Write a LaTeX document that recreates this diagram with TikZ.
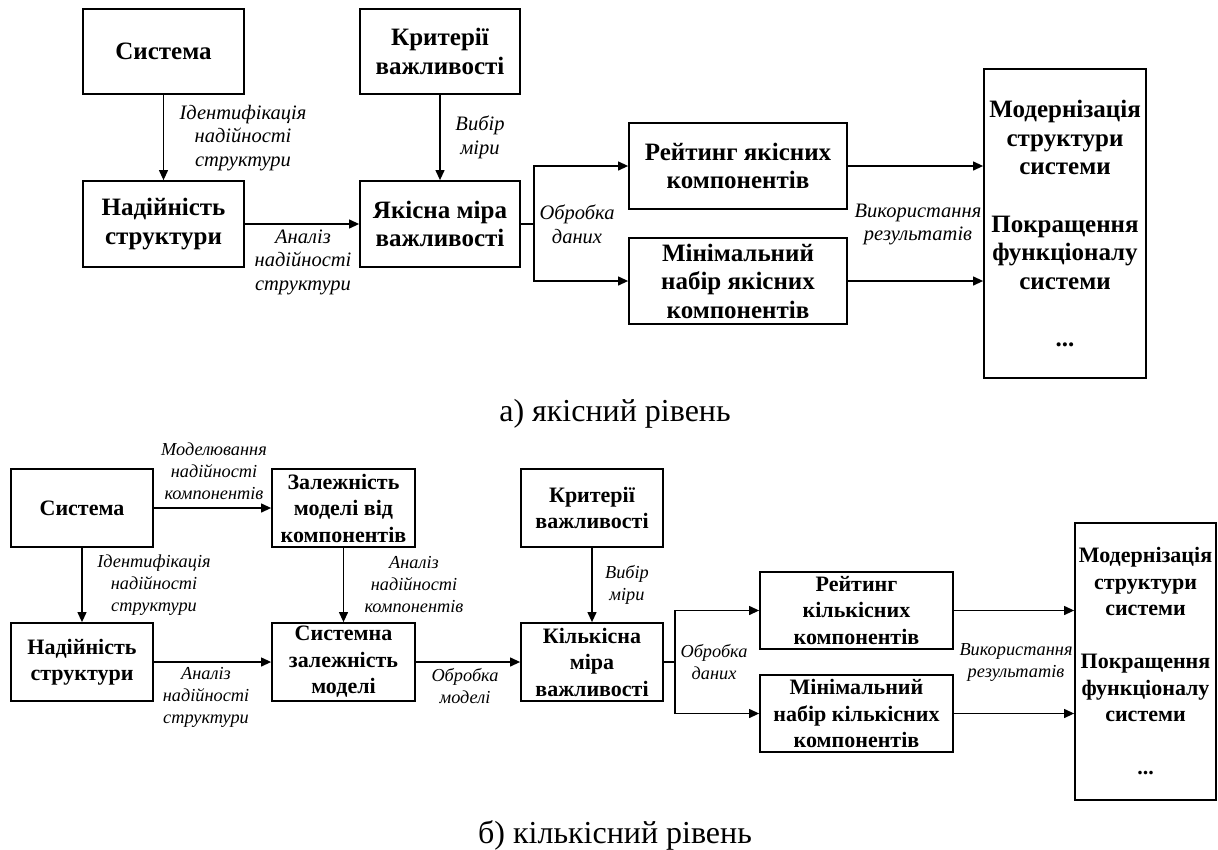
\documentclass[tikz,border=0pt]{standalone}
\usepackage{fontspec}
\setmainfont{Liberation Serif}
\usetikzlibrary{arrows.meta}
\begin{document}
\begin{tikzpicture}[x=1pt,y=-1pt,
  boxA/.style={draw, line width=1.8pt, inner sep=0pt, align=center, font=\bfseries\fontsize{25}{28.5}\selectfont},
  boxB/.style={draw, line width=1.8pt, inner sep=0pt, align=center, font=\bfseries\fontsize{22}{26.5}\selectfont},
  lblA/.style={inner sep=0pt, align=center, font=\itshape\fontsize{20.5}{23.5}\selectfont},
  lblB/.style={inner sep=0pt, align=center, font=\itshape\fontsize{18.3}{22}\selectfont},
  arr/.style={line width=1.2pt, -{Triangle[length=10pt,width=9pt]}},
  ln/.style={line width=1.2pt},
  capt/.style={inner sep=0pt, anchor=base, font=\fontsize{32}{36}\selectfont}]
\useasboundingbox (0,0) rectangle (1218,849);

% ---------- a) ----------
\node[boxA, minimum width=161pt, minimum height=85pt] (sysA) at (163.5,51.5) {Система};
\node[boxA, minimum width=160pt, minimum height=85pt] (kritA) at (440,51.5) {Критерії\\важливості};
\node[boxA, minimum width=161pt, minimum height=86pt] (nadA) at (163.5,224) {Надійність\\структури};
\node[boxA, minimum width=160pt, minimum height=86pt] (yakA) at (440,224) {Якісна міра\\важливості};
\node[boxA, minimum width=218pt, minimum height=86pt] (reitA) at (738,166) {Рейтинг якісних\\компонентів};
\node[boxA, minimum width=218pt, minimum height=86pt] (minA) at (738,281) {Мінімальний\\набір якісних\\компонентів};
\node[boxA, minimum width=162pt, minimum height=309pt] (modA) at (1065,223.5) {Модернізація\\структури\\системи\\[29pt]Покращення\\функціоналу\\системи\\[29pt]...};

\draw[arr] (sysA) -- (nadA);
\draw[arr] (kritA) -- (yakA);
\draw[arr] (nadA) -- (yakA);
\coordinate (brA) at (534,224);
\draw[ln] (yakA.east) -- (brA);
\draw[arr] (brA) |- (reitA.west);
\draw[arr] (brA) |- (minA.west);
\draw[arr] (reitA.east) -- (reitA.east -| modA.west);
\draw[arr] (minA.east) -- (minA.east -| modA.west);

\node[lblA] (l1A) at (243,138) {Ідентифікація\\надійності\\структури};
\node[lblA] (l2A) at (480,137.5) {Вибір\\міри};
\node[lblA] (l3A) at (303,262) {Аналіз\\надійності\\структури};
\node[lblA] (l4A) at (577,224.5) {Обробка\\даних};
\node[lblA] (l5A) at (918,224.5) {Використання\\результатів};

\node[capt] (captA) at (615,421.5) {а) якісний рівень};

% ---------- б) ----------
\node[boxB, minimum width=142pt, minimum height=78pt] (sysB) at (82,508) {Система};
\node[boxB, minimum width=143pt, minimum height=78pt] (zalB) at (343.5,508) {Залежність\\моделі від\\компонентів};
\node[boxB, minimum width=142pt, minimum height=78pt] (kritB) at (592,508) {Критерії\\важливості};
\node[boxB, minimum width=142pt, minimum height=78pt] (nadB) at (82,662) {Надійність\\структури};
\node[boxB, minimum width=143pt, minimum height=78pt] (sisB) at (343.5,662) {Системна\\залежність\\моделі};
\node[boxB, minimum width=142pt, minimum height=78pt] (kilB) at (592,662) {Кількісна\\міра\\важливості};
\node[boxB, minimum width=193pt, minimum height=77pt] (reitB) at (856.5,610.5) {Рейтинг\\кількісних\\компонентів};
\node[boxB, minimum width=193pt, minimum height=77pt] (minB) at (856.5,713.5) {Мінімальний\\набір кількісних\\компонентів};
\node[boxB, minimum width=141pt, minimum height=277pt] (modB) at (1145.5,661.5) {Модернізація\\структури\\системи\\[26.5pt]Покращення\\функціоналу\\системи\\[26.5pt]...};

\draw[arr] (sysB) -- (zalB);
\draw[arr] (sysB) -- (nadB);
\draw[arr] (zalB) -- (sisB);
\draw[arr] (nadB) -- (sisB);
\draw[arr] (sisB) -- (kilB);
\draw[arr] (kritB) -- (kilB);
\coordinate (brB) at (675,662);
\draw[ln] (kilB.east) -- (brB);
\draw[arr] (brB) |- (reitB.west);
\draw[arr] (brB) |- (minB.west);
\draw[arr] (reitB.east) -- (reitB.east -| modB.west);
\draw[arr] (minB.east) -- (minB.east -| modB.west);

\node[lblB] (l1B) at (214,471) {Моделювання\\надійності\\компонентів};
\node[lblB] (l2B) at (154,585) {Ідентифікація\\надійності\\структури};
\node[lblB] (l3B) at (414,585) {Аналіз\\надійності\\компонентів};
\node[lblB] (l4B) at (206,697) {Аналіз\\надійності\\структури};
\node[lblB] (l5B) at (465,686) {Обробка\\моделі};
\node[lblB] (l6B) at (627,585) {Вибір\\міри};
\node[lblB] (l7B) at (714,662.5) {Обробка\\даних};
\node[lblB] (l8B) at (1016,662.5) {Використання\\результатів};

\node[capt] (captB) at (615,843) {б) кількісний рівень};
\end{tikzpicture}
\end{document}
